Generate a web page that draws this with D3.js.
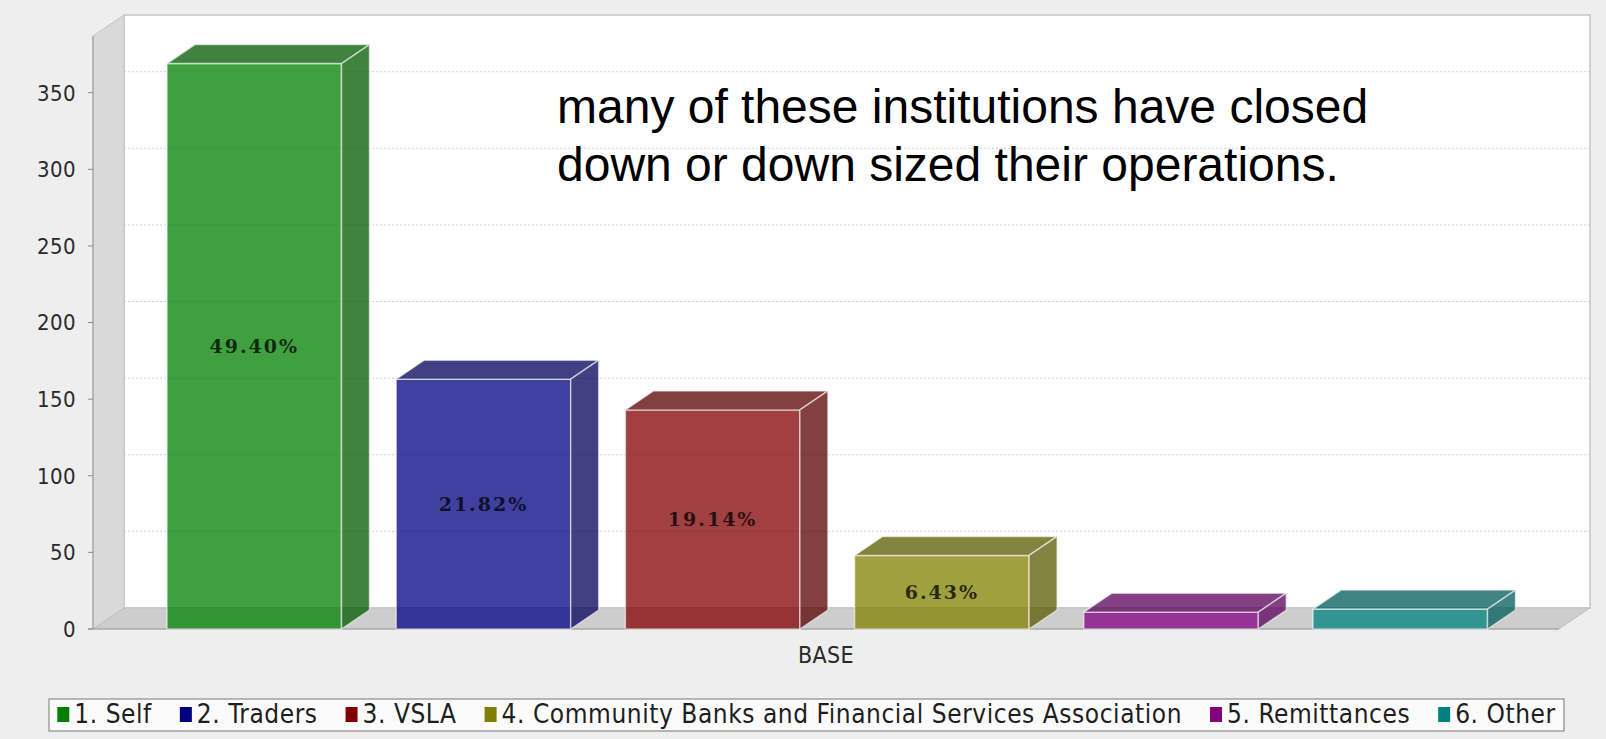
<!DOCTYPE html>
<html>
<head>
<meta charset="utf-8">
<script src="https://cdn.jsdelivr.net/npm/d3@7"></script>
<style>
  html, body { margin: 0; padding: 0; background: #eeeeee; }
  svg { display: block; }
</style>
</head>
<body>
<svg id="chart" width="1606" height="739"></svg>
<script>
// ---- data ----
const categories = ["BASE"];
const seriesNames = [
  "1. Self",
  "2. Traders",
  "3. VSLA",
  "4. Community Banks and Financial Services Association",
  "5. Remittances",
  "6. Other"
];
const seriesValues = [369, 163, 143, 48, 11, 13];
const seriesColors = ["#008000", "#000080", "#800000", "#808000", "#800080", "#008080"];
const yTicks = [0, 50, 100, 150, 200, 250, 300, 350];
const noteLines = [
  "many of these institutions have closed",
  "down or down sized their operations."
];

// ---- layout ----
const W = 1606, H = 739;
const plot = { left: 93, right: 1559, top: 36, bottom: 629 };
const wall = { dx: 31, dy: 21 };
const barDepth = { dx: 28, dy: 19 };
const condensed = "'DejaVu Sans Condensed', 'DejaVu Sans', sans-serif";

const svg = d3.select("#chart");
svg.append("rect").attr("width", W).attr("height", H).attr("fill", "#eeeeee");

const y = d3.scaleLinear().domain([0, 387]).range([plot.bottom, plot.top]);
const x = d3.scaleBand().domain(seriesNames).range([167, 1487.5]).paddingInner(0.2387);
const xCat = d3.scaleBand().domain(categories).range([plot.left, plot.right]);

// back wall
svg.append("rect")
  .attr("x", plot.left + wall.dx).attr("y", plot.top - wall.dy)
  .attr("width", plot.right - plot.left).attr("height", plot.bottom - plot.top)
  .attr("fill", "#ffffff").attr("stroke", "#c6c6c6").attr("stroke-width", 1.5);

// gridlines on the back wall
svg.append("g").selectAll("line")
  .data(yTicks.filter(d => d > 0))
  .join("line")
  .attr("x1", plot.left + wall.dx).attr("x2", plot.right + wall.dx)
  .attr("y1", d => y(d) - wall.dy).attr("y2", d => y(d) - wall.dy)
  .attr("stroke", "#cfcfcf").attr("stroke-width", 1).attr("stroke-dasharray", "2,2");

// left wall
svg.append("path")
  .attr("d", `M${plot.left},${plot.top}L${plot.left + wall.dx},${plot.top - wall.dy}` +
             `L${plot.left + wall.dx},${plot.bottom - wall.dy}L${plot.left},${plot.bottom}Z`)
  .attr("fill", "#d9d9d9").attr("stroke", "#c4c4c4").attr("stroke-width", 1);

// floor
svg.append("path")
  .attr("d", `M${plot.left},${plot.bottom}L${plot.left + wall.dx},${plot.bottom - wall.dy}` +
             `L${plot.right + wall.dx},${plot.bottom - wall.dy}L${plot.right},${plot.bottom}Z`)
  .attr("fill", "#cdcdcd").attr("stroke", "#c2c2c2").attr("stroke-width", 1);

// value axis
const yAxis = svg.append("g");
yAxis.append("line")
  .attr("x1", plot.left).attr("x2", plot.left)
  .attr("y1", plot.top).attr("y2", plot.bottom)
  .attr("stroke", "#9a9a9a").attr("stroke-width", 1);
yAxis.append("line")
  .attr("x1", plot.left - 5).attr("x2", plot.right)
  .attr("y1", plot.bottom).attr("y2", plot.bottom)
  .attr("stroke", "#9a9a9a").attr("stroke-width", 1);
yAxis.selectAll("line.tick")
  .data(yTicks).join("line").attr("class", "tick")
  .attr("x1", plot.left - 5).attr("x2", plot.left)
  .attr("y1", d => y(d)).attr("y2", d => y(d))
  .attr("stroke", "#8a8a8a");
yAxis.selectAll("text")
  .data(yTicks).join("text")
  .attr("x", 76).attr("y", d => y(d))
  .attr("dy", "0.36em")
  .attr("text-anchor", "end")
  .attr("font-family", condensed).attr("font-stretch", "condensed")
  .attr("font-size", 22).attr("letter-spacing", 0.4).attr("fill", "#2a2a2a")
  .text(d => d);

// 3D bars
const total = d3.sum(seriesValues);
const bars = svg.append("g");
seriesNames.forEach((name, i) => {
  const v = seriesValues[i];
  const x0 = x(name), w = x.bandwidth();
  const yt = y(v), yb = y(0);
  const base = d3.color(seriesColors[i]);
  const dark = base.darker(1).formatHex();
  const g = bars.append("g");
  const edge = "rgba(255,255,255,0.55)";
  // front face
  g.append("rect")
    .attr("x", x0).attr("y", yt).attr("width", w).attr("height", yb - yt)
    .attr("fill", base.formatHex()).attr("fill-opacity", 0.75)
    .attr("stroke", edge).attr("stroke-width", 1.5);
  // top face
  g.append("path")
    .attr("d", `M${x0},${yt}L${x0 + barDepth.dx},${yt - barDepth.dy}` +
               `L${x0 + w + barDepth.dx},${yt - barDepth.dy}L${x0 + w},${yt}Z`)
    .attr("fill", dark).attr("fill-opacity", 0.75)
    .attr("stroke", edge).attr("stroke-width", 1.5).attr("stroke-linejoin", "round");
  // side face
  g.append("path")
    .attr("d", `M${x0 + w},${yt}L${x0 + w + barDepth.dx},${yt - barDepth.dy}` +
               `L${x0 + w + barDepth.dx},${yb - barDepth.dy}L${x0 + w},${yb}Z`)
    .attr("fill", dark).attr("fill-opacity", 0.75)
    .attr("stroke", edge).attr("stroke-width", 1.5).attr("stroke-linejoin", "round");
  // percentage label, only where it fits on the front face
  if (yb - yt > 40) {
    g.append("text")
      .attr("x", x0 + w / 2).attr("y", (yt + yb) / 2)
      .attr("dy", "0.36em")
      .attr("text-anchor", "middle")
      .attr("font-family", "'DejaVu Serif', serif").attr("font-weight", "bold")
      .attr("font-size", 19).attr("letter-spacing", 2)
      .attr("fill", "#000").attr("fill-opacity", 0.75)
      .text(d3.format(".2f")(v / total * 100) + "%");
  }
});

// note text
svg.append("g").selectAll("text")
  .data(noteLines).join("text")
  .attr("x", 557).attr("y", (d, i) => 123 + i * 58)
  .attr("font-family", "'Liberation Sans', Arial, sans-serif")
  .attr("font-size", 48).attr("fill", "#000")
  .text(d => d);

// category label
svg.append("text")
  .attr("x", xCat("BASE") + xCat.bandwidth() / 2).attr("y", 655)
  .attr("dy", "0.36em").attr("text-anchor", "middle")
  .attr("font-family", condensed).attr("font-stretch", "condensed")
  .attr("font-size", 23).attr("letter-spacing", 0.3).attr("fill", "#2a2a2a")
  .text(categories[0]);

// legend
const legend = svg.append("g");
const legendBox = { x: 49, y: 699, w: 1515, h: 32 };
legend.append("rect")
  .attr("x", legendBox.x).attr("y", legendBox.y)
  .attr("width", legendBox.w).attr("height", legendBox.h)
  .attr("fill", "#fbfbfb").attr("stroke", "#8c8c8c").attr("stroke-width", 1.2);
const items = legend.selectAll("g.item").data(seriesNames).join("g").attr("class", "item");
items.append("rect")
  .attr("width", 12).attr("height", 15).attr("y", -16)
  .attr("fill", (d, i) => seriesColors[i]);
const labels = items.append("text")
  .attr("x", 17)
  .attr("font-family", condensed).attr("font-stretch", "condensed")
  .attr("font-size", 26).attr("letter-spacing", 0.55).attr("fill", "#1e1e1e")
  .text(d => d);
const gap = 28;
let widths = [];
labels.each(function () { widths.push(17 + this.getComputedTextLength()); });
const totalW = d3.sum(widths) + gap * (widths.length - 1);
let cx = legendBox.x + (legendBox.w - totalW) / 2;
items.attr("transform", (d, i) => {
  const t = `translate(${cx},${legendBox.y + 24})`;
  cx += widths[i] + gap;
  return t;
});
</script>
</body>
</html>
